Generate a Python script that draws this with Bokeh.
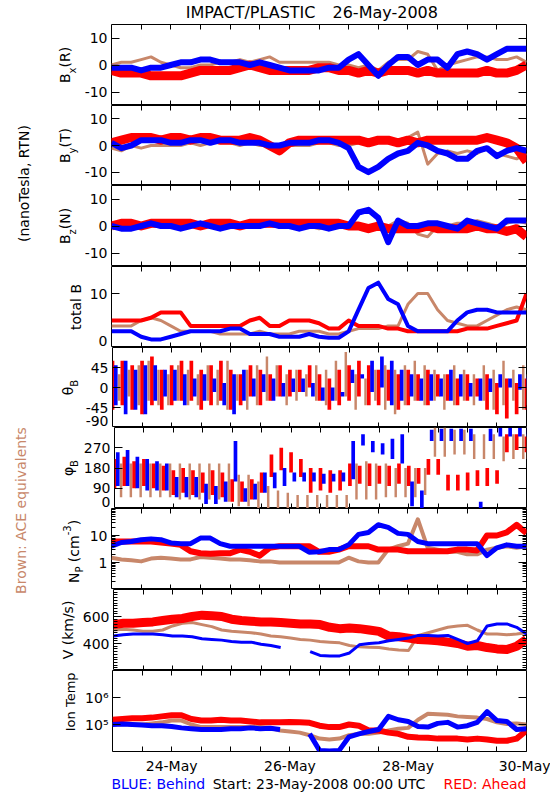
import math
import numpy as np
from bokeh.plotting import figure
from bokeh.layouts import row, column
from bokeh.models import Range1d, LinearAxis, LogAxis, FixedTicker, Label, ColumnDataSource
from bokeh.transform import dodge
from bokeh.embed import file_html
from bokeh.resources import INLINE

nan = float("nan")

# ---------------- data ----------------
hours = list(range(0, 169, 4))          # hours since 23-May-2008 00:00 UTC
x_ticks = [12, 24, 36, 48, 60, 72, 84, 96, 108, 120, 132, 144, 156, 168]
x_tick_labels = {24: "24-May", 72: "26-May", 120: "28-May", 168: "30-May"}

bx_red = [-2,-3,-3,-3,-4,-4, -4,-4,-3,-2,-2,-2, -2,-1,0,-1,-2,-2, -2,-2,-2,-1,-1,-2, -2,-3,-2,-3,-2,-2, -2,-3,-2,-3,-3,-3, -3,-3,-2,-3,-3,-2, 0]
bx_blue = [-1,-1,-1,-2,-1,-1, 0,1,1,2,2,1, 1,1,0,1,0,-1, -2,-2,-2,-2,-1,-1, 2,4,0,-4,0,3, 3,0,2,2,-1,4, 5,4,2,4,6,6, 6]
bx_brown = [0,1,1,2,3,1, 0,-1,-1,0,0,1, 1,2,1,2,3,1, 1,1,1,1,1,0, 0,-1,0,-2,1,2, 2,5,4,-2,0,1, 2,3,3,2,2,3, 1]

by_red = [1,2,3,3,3,2, 3,3,2,3,3,2, 2,2,3,2,0,-2, 1,2,2,2,2,2, 2,2,1,2,2,1, 2,1,2,2,2,2, 2,2,3,2,1,-1, -6]
by_blue = [1,-1,0,2,2,2, 1,1,2,2,1,2, 2,1,1,1,0,0, 1,1,1,2,2,1, -1,-8,-10,-8,-5,-3, -2,1,0,-2,-3,-5, -5,-2,-1,-4,-2,-1, -2]
by_brown = [-1,-2,0,-1,0,0, 0,0,1,0,1,1, 1,0,1,0,0,-1, 0,0,0,1,1,0, 0,1,2,2,1,2, 3,5,-7,-3,-2,-3, -2,-3,-1,-3,-4,-5, -3]

bz_red = [0,1,1,0,1,1, 1,1,1,0,1,1, 1,0,1,1,1,1, 1,1,1,1,1,1, 0,0,-1,0,-1,-1, -1,-1,0,-1,-1,-1, -1,0,-1,-1,-2,-1, -4]
bz_blue = [0,-1,-1,0,1,0, 0,-1,0,1,0,-1, 0,0,0,0,1,0, 0,-1,0,0,-1,0, 0,5,6,3,-6,2, 0,0,1,1,0,-1, 2,1,0,-1,2,2, 2]
bz_brown = [0,-1,0,0,0,0, 0,-1,0,0,0,0, 0,0,0,0,0,0, 0,0,0,-1,0,0, 0,0,0,-1,0,2, 1,-3,-4,0,0,1, 1,2,1,0,1,2, 1]

bt_red = [5,5,5,5,5.5,6.5, 6.5,6.5,4,4,4,4, 4,4,5,5.5,4,4, 5,5,5,4.5,3.5,3.5, 5,4,4,4,3.5,3.5, 3,3,3,3,3,3, 3.5,3.5,3.5,4,4.5,5, 10]
bt_blue = [3,3,3,2,1.5,1.5, 2,2.5,3,3,3,3, 3.5,3.5,2.5,2.5,2.5,2, 2,2,2.5,2,1.8,1.8, 3,7,11,12,9,8, 4,3,3,3,3,5, 6.5,7,7,6.5,6.5,6.5, 6.5]
bt_brown = [4,4,4,5,5.5,5, 4,3,3,3,3,2.5, 2.5,2.5,2.5,3,2.5,2.5, 2.5,3,3,3,2.5,2.5, 3,3.5,3.5,3.5,4,4, 8,10,10,7,5,4.5, 4,4,5,6,7,7.5, 7]

# theta_B / phi_B: low and high edge of the dense scatter in each 4-hour slot
th_red_lo = [-50,-40,-50,-60,-40,-50, -40,-30,-30,-50,-40,-30, -50,-40,-20,-40,-30,-20, -20,-10,0,-30,-50,-40, -30,-20,-40,-40,-30,-50, -40,-30,-40,-20,-30,-40, -30,-20,-50,-60,-70,-60, -50]
th_red_hi = [60,60,50,60,70,40, 50,60,60,40,50,60, 40,30,50,40,30,50, 40,40,50,30,20,40, 50,60,50,40,40,30, 40,30,40,30,30,20, 30,20,30,10,20,10, 20]
th_blue_lo = [-40,-60,-50,-60,-30,-20, -30,-40,-20,-30,-10,-40, -60,-30,-20,-10,-30,-20, -10,-10,-20,-30,-30,-20, 10,20,-10,0,-40,-30, -20,-30,-30,-20,-30,-20, -20,-30,-10,0,0,-5, 0]
th_blue_hi = [50,60,40,50,50,40, 40,30,20,30,20,10, 30,40,20,30,20,10, 20,20,10,0,0,-10, 40,30,60,70,60,40, 30,20,30,20,40,30, 10,20,20,30,20,30, 25]
th_brown_lo = [-30,-20,-40,-30,-40,-40, -30,-40,-40,-30,-40,-50, -30,-50,-40,-30,-20,-40, -30,-20,-30,-40,-30,-20, -50,-40,-30,-50,-60,-40, -30,-40,-30,-50,-40,-30, -40,-30,-50,-40,-30,-50, -40]
th_brown_hi = [30,40,50,60,40,30, 50,40,30,50,40,60, 30,40,50,70,50,30, 40,30,50,40,60,80, 30,20,40,50,40,50, 60,50,40,30,50,40, 30,50,40,60,40,50, 30]

ph_red_lo = [90,100,90,100,90,80, 60,70,60,70,60,50, 30,30,40,70,140,170, 160,140,70,80,70,80, 100,110,100,110,100,110, 100,110,150,150,80,80, 80,100,100,110,250,260, 250]
ph_red_hi = [220,230,210,220,200,190, 170,180,170,160,170,160, 130,120,130,160,240,270, 250,220,180,180,170,170, 200,190,200,190,190,200, 190,180,220,220,150,150, 160,170,180,170,330,330, 320]
ph_blue_lo = [100,100,90,80,80,80, 50,50,50,20,20,30, 120,30,40,70,90,100, 120,120,120,110,120,120, 130,280,250,240,220,200, 10,0,300,300,300,300, 300,0,300,320,320,320, 320]
ph_blue_hi = [250,260,230,220,210,200, 140,140,140,110,100,120, 300,90,110,160,160,180, 160,160,160,155,155,160, 300,330,300,290,310,330, 120,80,350,355,355,355, 355,30,355,358,358,358, 358]
ph_brown_lo = [50,50,50,50,50,50, 40,40,40,40,40,30, 10,10,0,0,0,0, 0,0,0,0,0,0, 40,40,40,50,50,50, 50,60,230,230,240,240, 220,220,220,210,220,220, 220]
ph_brown_hi = [200,200,200,200,200,200, 200,200,200,200,200,200, 150,150,120,100,80,70, 60,60,60,60,60,60, 200,210,200,200,180,180, 180,180,360,360,350,350, 330,330,330,320,330,330, 330]

np_red = [6,6,6,6,6,5.5, 5,4.5,2.6,2.2,2.1,2.2, 2.2,3,2.5,1.8,3.5,4, 4,4,4,2.5,2.5,3, 4,4,4,3,3,3, 2.6,2.6,2.6,2.6,2.6,3, 3,2.8,10,10,13,25, 12]
np_blue = [4,5.5,6,7,7.5,7, 5.3,5,5,8,8,5, 4,4,4,4,4,4, 4,4,2.4,2.5,3,3, 4.5,11,13,25,20,12, 11,6,5,5,5,5, 5,5,1.8,3.5,4.5,4, 4]
np_brown = [1.5,1.3,1.2,1.1,1.4,1.5, 1.4,1.3,1.3,1.6,1.5,1.4, 1.3,1.3,1.2,1.1,1.1,1.0, 1.0,1.0,1.0,1.0,1.0,1.0, 1.5,1.1,1.0,1.0,3,4, 5,40,3.5,3,2.5,2.5, 2,2,3,3.5,4,3.5, 4]

v_red = [540,550,550,555,560,570, 580,585,600,610,605,600, 580,570,565,560,560,555, 550,545,545,540,520,510, 515,510,500,490,455,450, 440,430,425,420,410,400, 380,385,370,360,355,380, 430]
v_blue = [455,465,470,470,470,465, 455,455,450,435,430,425, 415,410,410,395,385,370, nan,nan,340,312,308,308, 330,390,400,405,420,430, 440,460,460,455,460,430, 400,420,530,545,545,520, 470]
v_brown = [500,505,500,490,490,500, 530,550,555,540,525,500, 490,485,480,470,455,450, 440,430,425,415,410,405, 385,375,372,370,360,352, 348,460,480,500,520,530, 535,500,470,470,465,470, 480]

t_red = [1.5e5,1.6e5,1.7e5,1.7e5,1.8e5,2.0e5, 2.2e5,2.2e5,1.6e5,1.4e5,1.4e5,1.5e5, 1.4e5,1.4e5,1.3e5,1.2e5,1.2e5,1.2e5, 1.25e5,1.2e5,1.15e5,0.9e5,0.8e5,0.8e5, 1.0e5,0.9e5,0.6e5,0.6e5,0.5e5,0.45e5, 0.35e5,0.33e5,0.32e5,0.3e5,0.3e5,0.3e5, 0.28e5,0.3e5,0.28e5,0.25e5,0.25e5,0.3e5, 0.6e5]
t_blue = [1.0e5,1.05e5,1.0e5,0.95e5,0.9e5,0.9e5, 0.85e5,0.75e5,0.7e5,0.65e5,0.65e5,0.65e5, 0.7e5,0.7e5,0.75e5,0.7e5,0.72e5,0.65e5, nan,nan,0.45e5,1.1e4,1.05e4,1.1e4, 0.35e5,0.45e5,0.55e5,0.65e5,2.0e5,1.5e5, 1.3e5,0.85e5,0.8e5,1.1e5,1.2e5,0.8e5, 0.9e5,1.2e5,3.0e5,1.4e5,1.3e5,0.65e5, 0.7e5]
t_brown = [1.0e5,1.05e5,1.0e5,1.0e5,1.1e5,1.2e5, 1.4e5,1.4e5,1.0e5,0.8e5,0.8e5,0.8e5, 0.8e5,0.8e5,0.8e5,0.8e5,0.75e5,0.6e5, 0.55e5,0.5e5,0.4e5,0.3e5,0.28e5,0.3e5, 0.4e5,0.45e5,0.45e5,0.5e5,0.6e5,0.7e5, 0.75e5,1.5e5,2.5e5,2.4e5,2.3e5,2.0e5, 1.9e5,1.8e5,1.6e5,1.2e5,1.05e5,1.1e5, 1.0e5]

# ---------------- styling / layout ----------------
FONT = "DejaVu Sans"
RED, BLUE, BROWN = "#ff0000", "#0000ff", "#c8876a"
PAGE_W = 550
HEADER_H, FOOTER_H = 24, 24
FAR_W = 40                  # far-left strip with the long rotated captions
FRAME_W = 415
FRAME_LEFT = 111
RIGHT = PAGE_W - FRAME_LEFT - FRAME_W
BOTTOM_AXIS_H = 25
EDGE_LIFT = 7               # px an edge tick label is lifted off the frame edge
xr = Range1d(0, 168)

V_MINOR = [v for v in range(220, 800, 20) if v % 200]
NP_MINOR = [m * d for d in (0.1, 1, 10) for m in range(2, 10)]

# title parts: (text, font size, x centre on the page)
panels = [
    dict(h=81, yr=(-15, 15), log=False, major=[-10, 0, 10], labels={-10: "-10", 0: "0", 10: "10"}, minor=[],
         kind="line", data=(bx_brown, bx_red, bx_blue), widths=(3, 9, 6), mid=81,
         title=[("B", 14, 64), ("x", 10, 72), ("(R)", 14, 64)], ty=64.5, edge=None),
    dict(h=80, yr=(-15, 15), log=False, major=[-10, 0, 10], labels={-10: "-10", 0: "0", 10: "10"}, minor=[],
         kind="line", data=(by_brown, by_red, by_blue), widths=(3, 9, 6), mid=81,
         title=[("B", 14, 64), ("y", 10, 72), ("(T)", 14, 64)], ty=145, edge=None),
    dict(h=81, yr=(-15, 15), log=False, major=[-10, 0, 10], labels={-10: "-10", 0: "0", 10: "10"}, minor=[],
         kind="line", data=(bz_brown, bz_red, bz_blue), widths=(3, 9, 6), mid=81,
         title=[("B", 14, 64), ("z", 10, 72), ("(N)", 14, 64)], ty=225.5, edge=None),
    dict(h=81, yr=(0, 15), log=False, major=[0, 10], labels={10: "10"}, minor=[],
         kind="line", data=(bt_brown, bt_red, bt_blue), widths=(3, 4, 4), mid=86,
         title=[("total B", 14, 75)], ty=306.5, edge=(0, "0")),
    dict(h=80, yr=(-90, 90), log=False, major=[-90, -45, 0, 45], labels={-45: "-45", 0: "0", 45: "45"}, minor=[],
         kind="bars", data=((th_brown_lo, th_brown_hi), (th_red_lo, th_red_hi), (th_blue_lo, th_blue_hi)), mid=82,
         title=[("θ", 14, 67), ("B", 10, 74)], ty=387, edge=(-90, "-90")),
    dict(h=81, yr=(0, 360), log=False, major=[0, 90, 180, 270], labels={90: "90", 180: "180", 270: "270"}, minor=[],
         kind="bars", data=((ph_brown_lo, ph_brown_hi), (ph_red_lo, ph_red_hi), (ph_blue_lo, ph_blue_hi)), mid=80,
         title=[("φ", 14, 67.5), ("B", 10, 73.5)], ty=467.5, edge=(0, "0")),
    dict(h=81, yr=(0.1, 100), log=True, major=[0.1, 1, 10, 100], labels={1: "1", 10: "10"}, minor=NP_MINOR,
         kind="line", data=(np_brown, np_red, np_blue), widths=(4, 6, 5), mid=86,
         title=[("N", 14, 73), ("P", 10, 79), ("(cm", 14, 73), ("-3", 10, 66), (")", 14, 73)], ty=551, edge=None),
    dict(h=81, yr=(200, 800), log=False, major=[200, 400, 600, 800], labels={400: "400", 600: "600"}, minor=V_MINOR,
         kind="line", data=(v_brown, v_red, v_blue), widths=(3, 9, 3), mid=79,
         title=[("V (km/s)", 14, 67)], ty=629.5, edge=None),
    dict(h=81, yr=(1e4, 1e7), log=True, major=[10000, 100000, 1000000, 10000000],
         labels={100000: "10⁵", 1000000: "10⁶"}, minor=[],
         kind="line", data=(t_brown, t_red, t_blue), widths=(4, 6, 5), mid=82,
         title=[("Ion Temp", 13, 70)], ty=711, edge=None),
]
frame_bottoms = [105, 185, 266, 347, 427, 508, 589, 670, 751]
PANELS_H = sum(sp["h"] for sp in panels) + BOTTOM_AXIS_H

CW = {'B': .686, 'x': .592, 'y': .592, 'z': .525, '(': .39, ')': .39, 'R': .695, 'T': .611,
      'N': .748, 'θ': .602, 'φ': .65, 'P': .603, ' ': .318, 'c': .55, 'm': .974, '-': .361,
      '3': .636, 'V': .684, 'k': .579, '/': .337, 's': .521, 'I': .295, 'o': .612, 'n': .634,
      'e': .615, 'p': .635, 't': .392, 'a': .613, 'l': .278}


def text_w(s, size):
    return sum(CW.get(c, 0.6) for c in s) * size


def bare_fig(w, h):
    f = figure(width=w, height=h, x_range=Range1d(0, w), y_range=Range1d(0, h),
               x_axis_location=None, y_axis_location=None, output_backend="svg",
               toolbar_location=None, min_border=0)
    f.grid.visible = False
    f.outline_line_color = None
    f.border_fill_color = "white"
    f.background_fill_color = "white"
    return f


def txt(f, x, y, s, size=14, color="black", align="center", angle=0.0, baseline="middle"):
    f.add_layout(Label(x=x, y=y, text=s, angle=angle, text_align=align, text_baseline=baseline,
                       text_font=FONT, text_font_size=f"{size}px", text_color=color))


header = bare_fig(PAGE_W, HEADER_H)
txt(header, 315, HEADER_H - 11.5, "IMPACT/PLASTIC", size=16, align="right")
txt(header, 332, HEADER_H - 11.5, "26-May-2008", size=16, align="left")

footer = bare_fig(PAGE_W, FOOTER_H)
txt(footer, FRAME_LEFT, 17, "BLUE: Behind", color=BLUE, align="left")
txt(footer, FRAME_LEFT + FRAME_W / 2, 17, "Start: 23-May-2008 00:00 UTC", align="center")
txt(footer, FRAME_LEFT + FRAME_W, 17, "RED: Ahead", color=RED, align="right")

far = bare_fig(FAR_W, PANELS_H)
far_top = HEADER_H + PANELS_H
txt(far, 23, far_top - 183, "(nanoTesla, RTN)", angle=math.pi / 2)
txt(far, 20, far_top - 510, "Brown: ACE equivalents", color=BROWN, angle=math.pi / 2)


def x_axis(p, side_name, loc, labels):
    a = LinearAxis(ticker=FixedTicker(ticks=x_ticks), major_tick_in=5, major_tick_out=0,
                   minor_tick_in=0, minor_tick_out=0, axis_line_color=None,
                   major_tick_line_color="black")
    if labels:
        a.major_label_overrides = {t: x_tick_labels.get(t, "") for t in x_ticks}
        a.major_label_text_font = FONT
        a.major_label_text_font_size = "14px"
        a.major_label_text_color = "black"
        a.major_label_standoff = 6
    else:
        a.fixed_location = loc
        a.major_label_overrides = {t: "" for t in x_ticks}
        a.major_label_text_font_size = "0px"
        a.major_label_standoff = 0
    p.add_layout(a, side_name)


rows = []
for i, sp in enumerate(panels):
    last = i == len(panels) - 1
    bot = BOTTOM_AXIS_H if last else 0
    fig_h = sp["h"] + bot
    mid_w = sp["mid"] - FAR_W
    left = FRAME_LEFT - sp["mid"]
    y0, y1 = sp["yr"]
    p = figure(width=left + FRAME_W + RIGHT, height=fig_h, x_range=xr,
               y_range=Range1d(y0, y1), y_axis_type="log" if sp["log"] else "linear",
               x_axis_location=None, output_backend="svg", toolbar_location=None,
               min_border_left=left, min_border_right=RIGHT, min_border_top=0, min_border_bottom=bot)
    p.grid.visible = False
    p.outline_line_color = "black"
    p.outline_line_width = 1
    p.background_fill_color = "white"
    p.border_fill_color = "white"
    AX = LogAxis if sp["log"] else LinearAxis

    # label-only axis; an edge label is lifted a few pixels off the frame edge
    lab_pos = dict(sp["labels"])
    if sp["edge"] is not None:
        ev, etxt = sp["edge"]
        lab_pos[ev + (y1 - y0) * EDGE_LIFT / sp["h"]] = etxt
    ya = p.yaxis[0]
    ya.ticker = FixedTicker(ticks=sorted(lab_pos.keys()))
    ya.major_label_overrides = lab_pos
    ya.major_tick_in = 0
    ya.major_tick_out = 0
    ya.minor_tick_in = 0
    ya.minor_tick_out = 0
    ya.axis_line_color = None
    ya.major_label_text_font = FONT
    ya.major_label_text_font_size = "14px"
    ya.major_label_text_color = "black"
    ya.major_label_standoff = 4

    for loc, side_name in ((0, "left"), (168, "right")):
        ta = AX(ticker=FixedTicker(ticks=sp["major"], minor_ticks=sp["minor"]), fixed_location=loc,
                major_label_overrides={t: "" for t in sp["major"]}, major_label_text_font_size="0px",
                major_label_standoff=0, major_tick_in=8, major_tick_out=0, minor_tick_in=4,
                minor_tick_out=0, axis_line_color=None, major_tick_line_color="black",
                minor_tick_line_color="black")
        p.add_layout(ta, side_name)

    x_axis(p, "above", y1, False)
    x_axis(p, "below", y0, last)

    if sp["kind"] == "line":
        b, r, bl = sp["data"]
        src = ColumnDataSource(dict(t=np.array(hours, dtype=float), brown=np.array(b, dtype=float),
                                    red=np.array(r, dtype=float), blue=np.array(bl, dtype=float)))
        for col, color, w in zip(("brown", "red", "blue"), (BROWN, RED, BLUE), sp["widths"]):
            p.line("t", col, source=src, line_color=color, line_width=w, line_join="round")
    else:
        for (lo, hi), color, off, w in zip(sp["data"], (BROWN, RED, BLUE), (2.67, 0.0, 1.33), (1.0, 1.5, 1.5)):
            src = ColumnDataSource(dict(t=hours, lo=lo, hi=hi))
            p.vbar(x=dodge("t", off), width=w, bottom="lo", top="hi", source=src,
                   fill_color=color, line_color=None)

    # the panel's rotated title in its own narrow strip
    mid = bare_fig(mid_w, fig_h)
    ybase = bot + (frame_bottoms[i] - sp["ty"])
    if len(sp["title"]) == 1:
        t, fs, xc = sp["title"][0]
        txt(mid, xc - FAR_W, ybase, t, size=fs, align="center", angle=math.pi / 2)
    else:
        total = sum(text_w(t, fs) for t, fs, _ in sp["title"]) + (CW[' '] * 14 if len(sp["title"]) > 3 else 0)
        y = ybase - total / 2
        for k, (t, fs, xc) in enumerate(sp["title"]):
            if t.startswith("(") and k > 0 and len(sp["title"]) > 3:
                y += CW[' '] * 14
            txt(mid, xc - FAR_W, y, t, size=fs, align="left", angle=math.pi / 2)
            y += text_w(t, fs)

    rows.append(row(mid, p, spacing=0))

layout = column(header, row(far, column(*rows, spacing=0), spacing=0), footer, spacing=0)
open("out.html", "w").write(file_html(layout, INLINE))
